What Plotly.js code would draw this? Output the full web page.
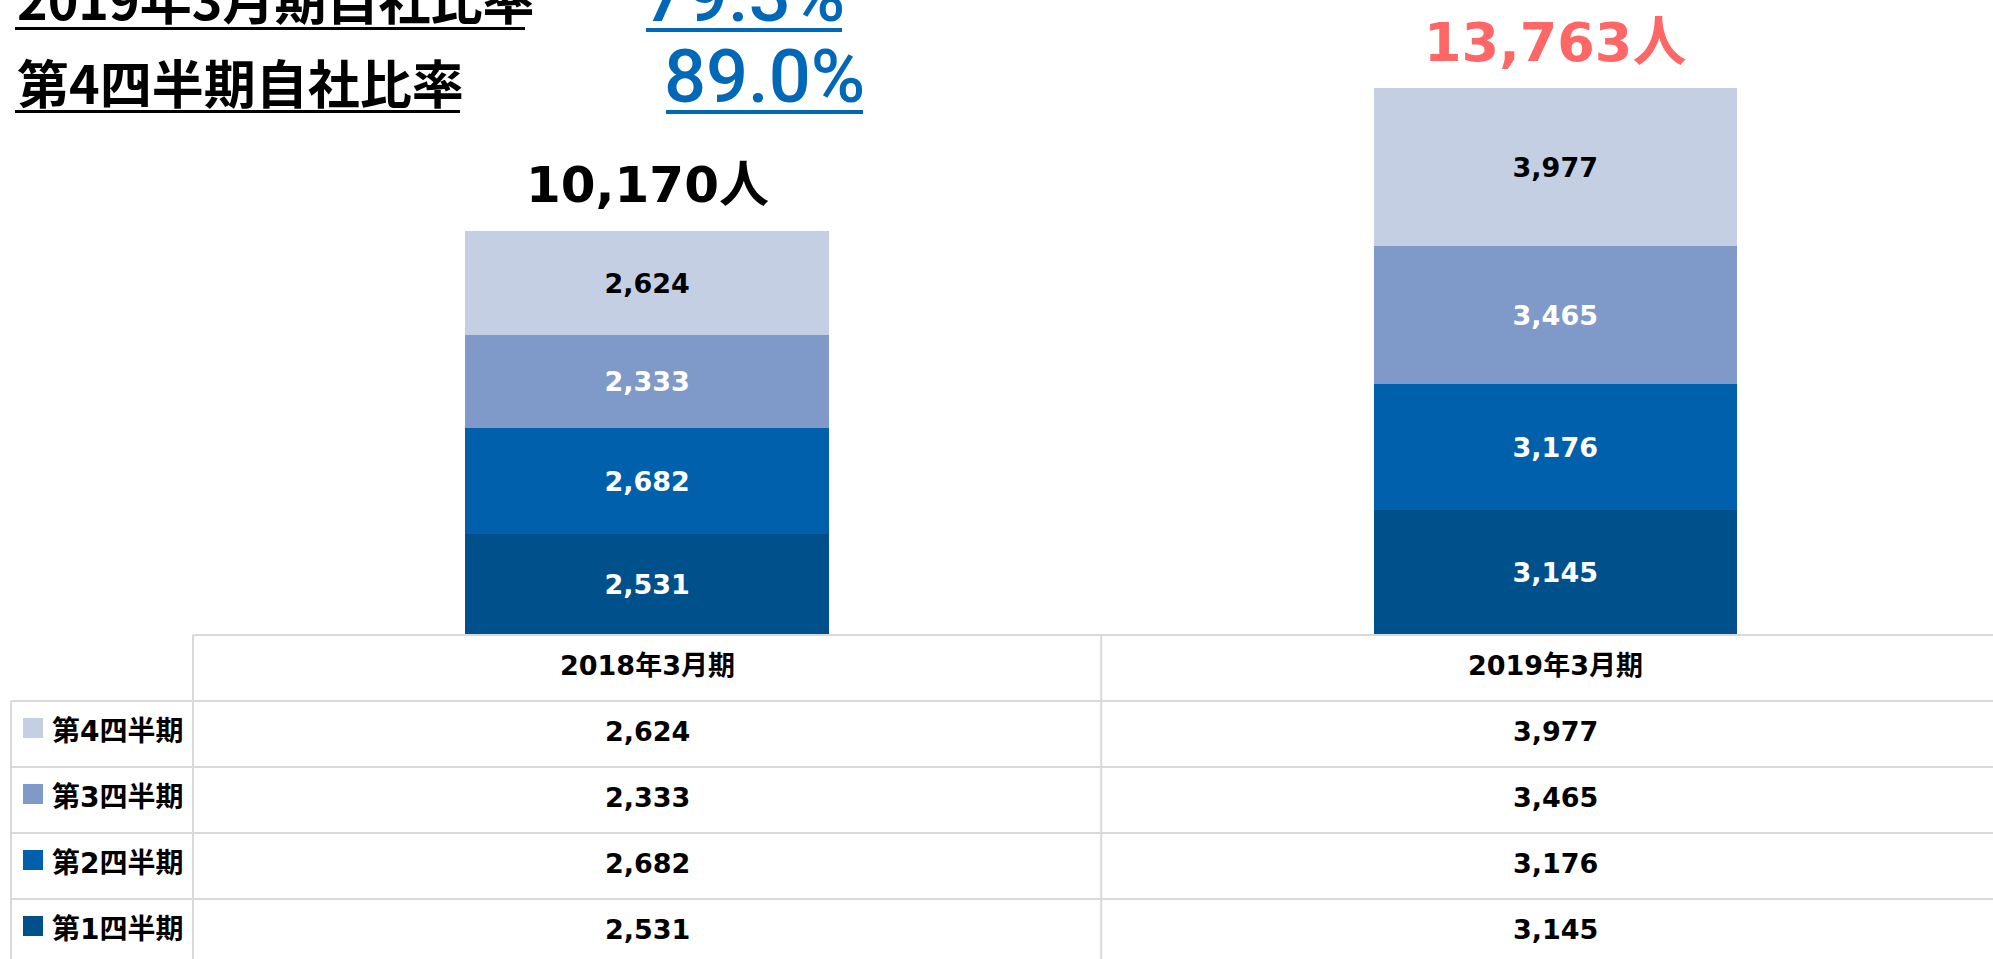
<!DOCTYPE html>
<html>
<head>
<meta charset="utf-8">
<script src="https://cdn.plot.ly/plotly-3.0.1.min.js"></script>
<style>
  html, body { margin: 0; padding: 0; background: #ffffff; }
  #chart { width: 1993px; height: 959px; }
</style>
</head>
<body>
<div id="chart"></div>
<script>
// ---------------- data ----------------
const categories = ['2018年3月期', '2019年3月期'];
const seriesNames = ['第1四半期', '第2四半期', '第3四半期', '第4四半期'];
const q1Values = [2531, 3145];
const q2Values = [2682, 3176];
const q3Values = [2333, 3465];
const q4Values = [2624, 3977];
const headlineLabels = ['2019年3月期自社比率', '第4四半期自社比率'];
const headlineValues = ['79.3%', '89.0%'];
const totalSuffix = '人';

// ---------------- styles ----------------
const seriesValues = [q1Values, q2Values, q3Values, q4Values];
const seriesColors = ['#00508C', '#0060AC', '#7F9AC8', '#C4CFE3'];
const seriesTextColors = ['#ffffff', '#ffffff', '#ffffff', '#000000'];
const totalColors = ['#000000', '#FF6666'];
const totalSizes = [50, 54];
const blue = '#0068B7';
const gridColor = '#D9D9D9';
const numFont = 'DejaVu Sans, Verdana, Noto Sans CJK JP, sans-serif';
const jpFont = 'Noto Sans CJK JP, sans-serif';

// layout geometry (pixels)
const W = 1993, H = 959;
const plotL = 193, plotBottom = 635;
const plotW = W - plotL;
const X = p => (p - plotL) / plotW;          // pixel x -> paper x
const Y = p => (plotBottom - p) / plotBottom; // pixel y -> paper y

const fmt = v => v.toLocaleString('en-US');

// ---------------- traces ----------------
const traces = seriesNames.map((name, i) => ({
  type: 'bar',
  name: name,
  x: categories,
  y: seriesValues[i],
  marker: { color: seriesColors[i], line: { width: 0 } },
  texttemplate: '%{y:,}',
  textposition: 'inside',
  insidetextanchor: 'middle',
  textangle: 0,
  constraintext: 'none',
  textfont: { family: numFont, size: 27, color: seriesTextColors[i], weight: 'bold' },
  hoverinfo: 'skip'
}));

// ---------------- annotations ----------------
const annotations = [];
const shapes = [];

// totals above bars
const totals = categories.map((c, j) => seriesValues.reduce((s, arr) => s + arr[j], 0));
categories.forEach((c, j) => {
  annotations.push({
    x: c, y: totals[j], xref: 'x', yref: 'y',
    text: fmt(totals[j]) + totalSuffix,
    showarrow: false, xanchor: 'center', yanchor: 'middle', yshift: 46,
    font: { family: numFont, size: totalSizes[j], color: totalColors[j], weight: 'bold' }
  });
});

// headlines (top-left)
const headRowY = [-2, 82];
const headValY = [-5, 76];
const headUnderL = [[15, 525, 27, 30], [15, 460, 110, 113]];
const headUnderR = [[646, 842, 28, 32], [666, 863, 110, 114]];
const headValX = [744, 764.5];
headlineLabels.forEach((lab, i) => {
  annotations.push({
    x: X(15), y: Y(headRowY[i]), xref: 'paper', yref: 'paper',
    text: lab, showarrow: false, xanchor: 'left', yanchor: 'middle',
    font: { family: jpFont, size: 52, color: '#000000', weight: 'bold' }
  });
  annotations.push({
    x: X(headValX[i]), y: Y(headValY[i]), xref: 'paper', yref: 'paper',
    text: headlineValues[i], showarrow: false, xanchor: 'center', yanchor: 'middle',
    font: { family: 'Roboto, Arial, sans-serif', size: 74, color: blue, weight: 500 }
  });
  const a = headUnderL[i], b = headUnderR[i];
  shapes.push({ type: 'rect', xref: 'paper', yref: 'paper', x0: X(a[0]), x1: X(a[1]), y0: Y(a[2]), y1: Y(a[3]), fillcolor: '#000000', line: { width: 0 } });
  shapes.push({ type: 'rect', xref: 'paper', yref: 'paper', x0: X(b[0]), x1: X(b[1]), y0: Y(b[2]), y1: Y(b[3]), fillcolor: blue, line: { width: 0 } });
});

// table
const tableTop = 635, headerBottom = 701, rowH = 66;
// header labels
categories.forEach(c => {
  annotations.push({
    x: c, y: Y(665), xref: 'x', yref: 'paper',
    text: c, showarrow: false, xanchor: 'center', yanchor: 'middle',
    font: { family: numFont, size: 27, color: '#000000', weight: 'bold' }
  });
});
// rows (top row = last series)
const rowOrder = [3, 2, 1, 0];
rowOrder.forEach((si, r) => {
  const top = headerBottom + r * rowH;
  const cy = top + 30;
  shapes.push({ type: 'rect', xref: 'paper', yref: 'paper', x0: X(23), x1: X(43), y0: Y(top + 17), y1: Y(top + 37), fillcolor: seriesColors[si], line: { width: 0 } });
  annotations.push({
    x: X(50), y: Y(cy), xref: 'paper', yref: 'paper',
    text: seriesNames[si], showarrow: false, xanchor: 'left', yanchor: 'middle',
    font: { family: numFont, size: 28, color: '#000000', weight: 'bold' }
  });
  categories.forEach((c, j) => {
    annotations.push({
      x: c, y: Y(cy), xref: 'x', yref: 'paper',
      text: fmt(seriesValues[si][j]), showarrow: false, xanchor: 'center', yanchor: 'middle',
      font: { family: numFont, size: 27, color: '#000000', weight: 'bold' }
    });
  });
});
// table grid lines
const lineStyle = { color: gridColor, width: 2 };
shapes.push({ type: 'line', xref: 'paper', yref: 'paper', x0: X(193), x1: X(W), y0: Y(tableTop), y1: Y(tableTop), line: lineStyle });
for (let r = 0; r < 4; r++) {
  const yy = headerBottom + r * rowH;
  shapes.push({ type: 'line', xref: 'paper', yref: 'paper', x0: X(11), x1: X(W), y0: Y(yy), y1: Y(yy), line: lineStyle });
}
shapes.push({ type: 'line', xref: 'paper', yref: 'paper', x0: X(11), x1: X(11), y0: Y(headerBottom), y1: Y(H + 5), line: lineStyle });
shapes.push({ type: 'line', xref: 'paper', yref: 'paper', x0: X(193), x1: X(193), y0: Y(tableTop), y1: Y(H + 5), line: lineStyle });
shapes.push({ type: 'line', xref: 'x', yref: 'paper', x0: 0.5, x1: 0.5, y0: Y(tableTop), y1: Y(H + 5), line: lineStyle });

const layout = {
  width: W, height: H,
  margin: { l: plotL, r: 0, t: 0, b: H - plotBottom, pad: 0 },
  paper_bgcolor: '#ffffff', plot_bgcolor: '#ffffff',
  barmode: 'stack', bargap: 0.6,
  showlegend: false,
  xaxis: { type: 'category', range: [-0.5, 1.482], showticklabels: false, showgrid: false, zeroline: false, showline: false, ticks: '', fixedrange: true },
  yaxis: { range: [0, 15987], showticklabels: false, showgrid: false, zeroline: false, showline: false, ticks: '', fixedrange: true },
  annotations: annotations,
  shapes: shapes,
  uniformtext: { mode: false }
};

Plotly.newPlot('chart', traces, layout, { displayModeBar: false, staticPlot: true });
</script>
</body>
</html>
